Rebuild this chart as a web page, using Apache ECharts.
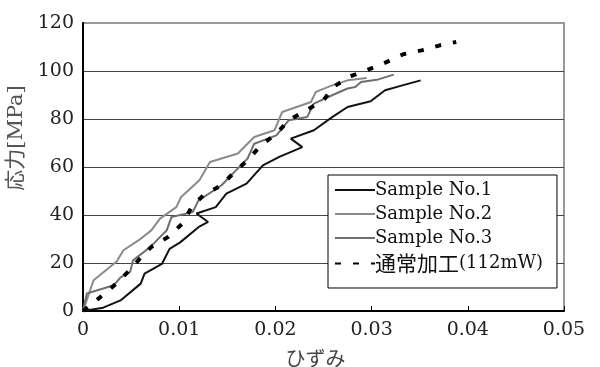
<!DOCTYPE html>
<html>
<head>
<meta charset="utf-8">
<script src="https://cdn.jsdelivr.net/npm/echarts@6/dist/echarts.min.js"></script>
<style>
  html, body { margin: 0; padding: 0; background: #fff; }
  #chart { width: 600px; height: 367px; }
</style>
</head>
<body>
<div id="chart"></div>
<script>
// 系列名
const seriesNames = ['Sample No.1', 'Sample No.2', 'Sample No.3', '通常加工(112mW)'];

// ひずみ / 応力[MPa]
const sample1X = [0, 0.0021, 0.0039, 0.006, 0.0064, 0.0082, 0.009, 0.0101, 0.012, 0.013, 0.0118, 0.0138, 0.0149, 0.017, 0.0187, 0.0204, 0.0228, 0.0216, 0.024, 0.0259, 0.0275, 0.0299, 0.0314, 0.0332, 0.0351];
const sample1Y = [0, 1.4, 4.4, 11.4, 15.6, 19.6, 25.9, 28.6, 34.9, 37.1, 40.6, 43.3, 48.9, 53.1, 60.7, 64.2, 68.3, 71.8, 75.3, 80.8, 85, 87.4, 92, 94, 96.1];

const sample2X = [0, 0.0011, 0.0035, 0.0042, 0.0058, 0.0071, 0.008, 0.0097, 0.0102, 0.0121, 0.0132, 0.0161, 0.0178, 0.0199, 0.0207, 0.0237, 0.0242, 0.0259, 0.0275, 0.0295];
const sample2Y = [0, 12.8, 20.6, 25.3, 29.5, 33.6, 38.5, 43.3, 47.5, 54.5, 62.1, 65.6, 72.5, 75.3, 82.9, 87.1, 91.3, 94, 96.1, 97.1];

const sample3X = [0, 0.0004, 0.0032, 0.0039, 0.0049, 0.0052, 0.007, 0.0087, 0.0092, 0.0114, 0.012, 0.0144, 0.0159, 0.0171, 0.0178, 0.0201, 0.0214, 0.0233, 0.024, 0.0259, 0.0275, 0.0283, 0.0289, 0.0307, 0.0323];
const sample3Y = [0, 7.3, 10.7, 14, 16.3, 21.1, 26.7, 33.6, 39.2, 41.2, 46, 52.4, 58.6, 63.5, 69.7, 73.2, 79.5, 80.8, 86.4, 89.9, 92.7, 93.3, 95.4, 96.5, 98.5];

const normalX = [0, 0.0018, 0.0032, 0.0048, 0.0059, 0.0071, 0.0089, 0.0104, 0.0113, 0.0125, 0.0144, 0.0156, 0.0171, 0.0185, 0.0201, 0.0214, 0.0232, 0.025, 0.0261, 0.0278, 0.0295, 0.0316, 0.0333, 0.0352, 0.0371, 0.0388];
const normalY = [0, 5.8, 10.5, 16.8, 21.8, 26.7, 31, 36.7, 43.3, 48.2, 52.4, 57.3, 62.8, 69, 73.9, 79.5, 83.6, 87.8, 93.6, 97.8, 100.3, 103.8, 107, 108.6, 110.7, 112.1];

const zip = (xs, ys) => xs.map((x, i) => [x, ys[i]]);

const serif = "'DejaVu Serif', 'Noto Sans CJK JP', serif";

const chart = echarts.init(document.getElementById('chart'), null, { renderer: 'canvas' });

const option = {
  animation: false,
  backgroundColor: '#fff',
  grid: {
    left: 83,
    right: 36,
    top: 23,
    bottom: 56,
    outerBoundsMode: 'none',
    containLabel: false,
    show: true,
    borderColor: '#999',
    borderWidth: 2,
  },
  xAxis: {
    type: 'value',
    min: 0,
    max: 0.05,
    interval: 0.01,
    name: 'ひずみ',
    nameLocation: 'middle',
    nameGap: 37,
    nameTextStyle: { fontFamily: "'Noto Sans CJK JP'", fontSize: 20, color: '#444', padding: [0, 16, 0, 0] },
    axisLine: { lineStyle: { color: '#000', width: 2 } },
    axisTick: { show: true, inside: true, length: 5, lineStyle: { color: '#000', width: 1 } },
    axisLabel: {
      margin: 10,
      fontFamily: serif,
      fontSize: 19,
      color: '#222',
      formatter: (v) => (v === 0 ? '0' : v.toFixed(2)),
    },
    splitLine: { show: false },
  },
  yAxis: {
    type: 'value',
    min: 0,
    max: 120,
    interval: 20,
    name: '応力[MPa]',
    nameLocation: 'middle',
    nameGap: 36,
    nameRotate: 90,
    nameTextStyle: { fontFamily: serif, fontSize: 21, color: '#555', padding: [0, 0, 0, 58] },
    axisLine: { show: true, lineStyle: { color: '#000', width: 2 } },
    axisTick: { show: false },
    axisLabel: { margin: 9, fontFamily: serif, fontSize: 19, color: '#222' },
    splitLine: {
      show: true,
      lineStyle: { color: ['#444', '#444', '#444', '#444', '#444', '#444', '#999'], width: 1 },
    },
  },
  legend: {
    orient: 'vertical',
    left: 328,
    top: 175,
    data: seriesNames,
    itemWidth: 40,
    itemHeight: 18,
    itemGap: 6,
    padding: [6, 14, 14, 6],
    backgroundColor: '#fff',
    borderColor: '#000',
    borderWidth: 1,
    borderRadius: 0,
    itemStyle: { opacity: 0 },
    textStyle: {
      fontFamily: serif,
      fontSize: 18,
      color: '#111',
      padding: [0, 0, 0, -5],
      rich: {
        j: { fontFamily: "'Noto Sans CJK JP'", fontSize: 21, color: '#111' },
      },
    },
    formatter: (name) => (name === seriesNames[3] ? '{j|通常加工}(112mW)' : name),
  },
  series: [
    {
      name: seriesNames[0],
      type: 'line',
      data: zip(sample1X, sample1Y),
      showSymbol: false,
      symbol: 'none',
      lineStyle: { color: '#111', width: 2 },
      itemStyle: { color: '#111' },
      z: 4,
    },
    {
      name: seriesNames[1],
      type: 'line',
      data: zip(sample2X, sample2Y),
      showSymbol: false,
      symbol: 'none',
      lineStyle: { color: '#8a8a8a', width: 2 },
      itemStyle: { color: '#8a8a8a' },
      z: 2,
    },
    {
      name: seriesNames[2],
      type: 'line',
      data: zip(sample3X, sample3Y),
      showSymbol: false,
      symbol: 'none',
      lineStyle: { color: '#6e6e6e', width: 2 },
      itemStyle: { color: '#6e6e6e' },
      z: 3,
    },
    {
      name: seriesNames[3],
      type: 'line',
      data: zip(normalX, normalY),
      showSymbol: false,
      symbol: 'none',
      lineStyle: { color: '#000', width: 4, type: [6, 12] },
      itemStyle: { color: '#000' },
      z: 5,
    },
  ],
};

chart.setOption(option);
</script>
</body>
</html>
